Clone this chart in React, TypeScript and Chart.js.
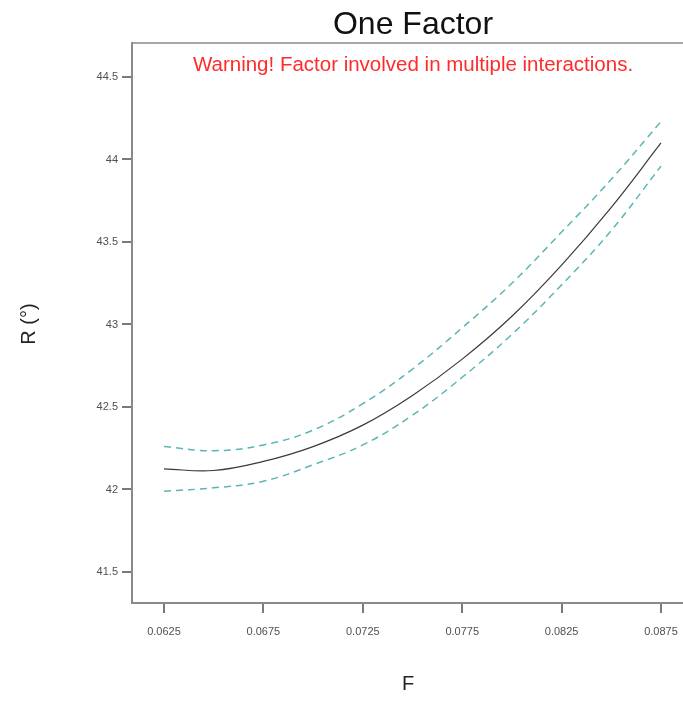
import React, { useEffect, useRef } from "react";
import { Chart, registerables } from "chart.js";

Chart.register(...registerables);

const fValues = [0.0625, 0.065, 0.0675, 0.07, 0.0725, 0.075, 0.0775, 0.08, 0.0825, 0.085, 0.0875];
const predicted = [42.125, 42.115, 42.17, 42.26, 42.39, 42.57, 42.79, 43.05, 43.36, 43.71, 44.1];
const upperCI = [42.26, 42.235, 42.27, 42.36, 42.52, 42.73, 42.98, 43.25, 43.56, 43.88, 44.23];
const lowerCI = [41.99, 42.01, 42.05, 42.15, 42.27, 42.45, 42.68, 42.94, 43.24, 43.57, 43.96];
const xTicks = [0.0625, 0.0675, 0.0725, 0.0775, 0.0825, 0.0875];
const yTicks = [41.5, 42, 42.5, 43, 43.5, 44, 44.5];

const TITLE = "One Factor";
const WARNING = "Warning! Factor involved in multiple interactions.";
const X_TITLE = "F";
const Y_TITLE = "R (°)";

const FONT = "'Liberation Sans', Arial, sans-serif";

const textPlugin = {
  id: "textPlugin",
  afterDraw(chart: any) {
    const { ctx, chartArea } = chart;
    const cx = (chartArea.left + chartArea.right) / 2;
    ctx.save();
    ctx.strokeStyle = "#8a8a8a";
    ctx.lineWidth = 1.5;
    ctx.beginPath();
    ctx.moveTo(chartArea.left, chartArea.top);
    ctx.lineTo(chartArea.right, chartArea.top);
    ctx.lineTo(chartArea.right, chartArea.bottom);
    ctx.stroke();

    ctx.textAlign = "center";
    ctx.textBaseline = "alphabetic";
    ctx.fillStyle = "#111111";
    ctx.font = `32px ${FONT}`;
    ctx.fillText(TITLE, cx, 34);

    ctx.fillStyle = "#ff2b2b";
    ctx.font = `20.5px ${FONT}`;
    ctx.fillText(WARNING, cx, 71);

    ctx.fillStyle = "#222222";
    ctx.font = `20px ${FONT}`;
    ctx.textBaseline = "middle";
    ctx.fillText(X_TITLE, 408, 684);

    ctx.translate(29, 324);
    ctx.rotate(-Math.PI / 2);
    ctx.fillText(Y_TITLE, 0, 0);
    ctx.restore();
  },
};

export default function App() {
  const ref = useRef<HTMLCanvasElement>(null);
  useEffect(() => {
    if (!ref.current) return;
    const mk = (ys: number[]) => fValues.map((x, i) => ({ x, y: ys[i] }));
    const chart = new Chart(ref.current, {
      type: "line",
      data: {
        datasets: [
          {
            label: "Upper",
            data: mk(upperCI),
            borderColor: "#5cb5b5",
            borderWidth: 1.5,
            borderDash: [7, 5],
            pointRadius: 0,
            tension: 0.4,
          },
          {
            label: "Predicted",
            data: mk(predicted),
            borderColor: "#3a3a3a",
            borderWidth: 1.2,
            pointRadius: 0,
            tension: 0.4,
          },
          {
            label: "Lower",
            data: mk(lowerCI),
            borderColor: "#5cb5b5",
            borderWidth: 1.5,
            borderDash: [7, 5],
            pointRadius: 0,
            tension: 0.4,
          },
        ],
      },
      options: {
        animation: false,
        responsive: false,
        layout: { padding: { left: 72, top: 43, right: 6, bottom: 79 } },
        plugins: { legend: { display: false }, tooltip: { enabled: false }, title: { display: false } },
        scales: {
          x: {
            type: "linear",
            min: 0.06089,
            max: 0.08916,
            afterBuildTicks: (s: any) => {
              s.ticks = xTicks.map((v) => ({ value: v }));
            },
            afterFit: (s: any) => {
              s.height = 40;
            },
            grid: { drawOnChartArea: false, drawTicks: true, tickLength: 10, color: "#7a7a7a", lineWidth: 2 },
            border: { display: true, color: "#8a8a8a", width: 2 },
            ticks: {
              padding: 12,
              maxRotation: 0,
              autoSkip: false,
              color: "#505050",
              font: { family: FONT, size: 11 },
              callback: (v: any) => Number(v).toFixed(4),
            },
          },
          y: {
            type: "linear",
            min: 41.312,
            max: 44.706,
            afterBuildTicks: (s: any) => {
              s.ticks = yTicks.map((v) => ({ value: v }));
            },
            afterFit: (s: any) => {
              s.width = 60;
            },
            grid: { drawOnChartArea: false, drawTicks: true, tickLength: 10, color: "#7a7a7a", lineWidth: 2 },
            border: { display: true, color: "#8a8a8a", width: 2 },
            ticks: {
              padding: 4,
              autoSkip: false,
              color: "#505050",
              font: { family: FONT, size: 11 },
              callback: (v: any) => String(v),
            },
          },
        },
      },
      plugins: [textPlugin],
    });
    return () => chart.destroy();
  }, []);
  return (
    <div style={{ position: "fixed", left: 0, top: 0, width: 683, height: 722, overflow: "hidden", background: "#fff" }}>
      <canvas ref={ref} width={700} height={722} style={{ display: "block", width: 700, height: 722 }} />
    </div>
  );
}
